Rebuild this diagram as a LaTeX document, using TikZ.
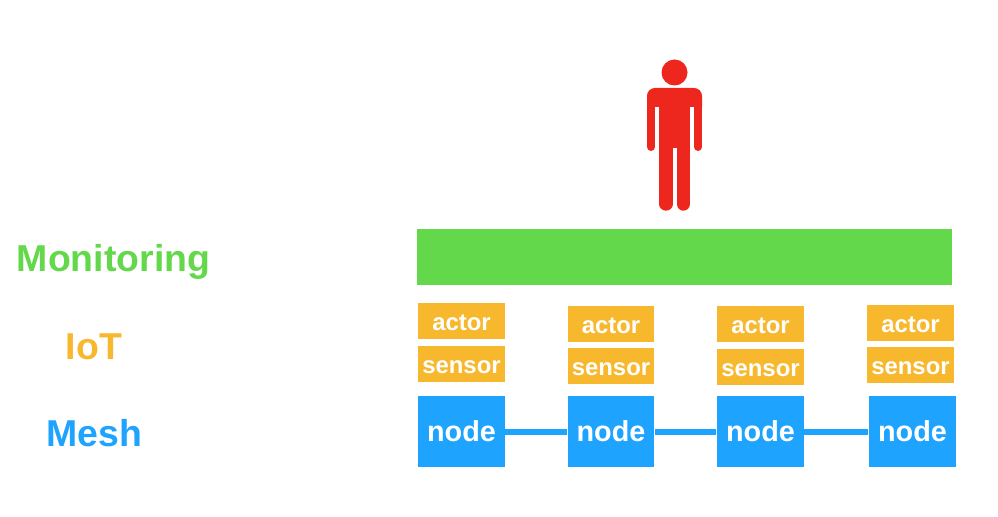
\documentclass[tikz,border=0pt]{standalone}
\usepackage{fontspec}
\setmainfont{Liberation Sans}
\usepackage{xcolor}
\definecolor{monitorgreen}{HTML}{62D84A}
\definecolor{iotorange}{HTML}{F8B82E}
\definecolor{meshblue}{HTML}{1EA3FF}
\definecolor{personred}{HTML}{EE271E}

\begin{document}
\begin{tikzpicture}[x=0.02cm,y=-0.02cm,
	label/.style={font=\fontsize{21.3}{24}\selectfont\bfseries,inner sep=0pt,anchor=base},
	iotbox/.style={fill=iotorange,text=white,inner sep=0pt,minimum width=1.73cm,minimum height=0.72cm,text height=10.8pt,text depth=0pt,font=\fontsize{13.6}{16}\selectfont\bfseries},
	meshbox/.style={fill=meshblue,text=white,inner sep=0pt,minimum width=1.73cm,minimum height=1.42cm,text height=11.6pt,text depth=0pt,font=\fontsize{16.4}{19}\selectfont\bfseries},
	meshlink/.style={meshblue,line width=0.12cm}]
	\useasboundingbox (0,0) rectangle (998,517);
	
	%PERSON
	\fill[personred] (674.5,72.5) circle (13);
	\fill[personred] (647,107) [rounded corners=4.5pt] -- (647,88) -- (702,88) [sharp corners] -- (702,107) -- cycle;
	\fill[personred] (659.3,100) rectangle (690,148);
	\draw[personred,line width=0.16cm,line cap=round] (651,100)--(651,147);
	\draw[personred,line width=0.16cm,line cap=round] (698,100)--(698,147);
	\draw[personred,line width=0.268cm,line cap=round] (666,140)--(666,204);
	\draw[personred,line width=0.268cm,line cap=round] (683.3,140)--(683.3,204);
	
	%LABELS
	\node[label,text=monitorgreen] (monitoring) at (113.5,271.2) {Monitoring};
	\node[label,text=iotorange] (iot) at (94,359.3) {IoT};
	\node[label,text=meshblue] (mesh) at (94.5,446.2) {Mesh};
	
	%MONITORING BAR
	\node[fill=monitorgreen,minimum width=10.7cm,minimum height=1.12cm,inner sep=0pt] (bar) at (684.5,257) {};
	
	%MESH NODES
	\node[meshbox] (node1) at (461.5,431.5) {node};
	\node[meshbox] (node2) at (611,431.5) {node};
	\node[meshbox] (node3) at (760.5,431.5) {node};
	\node[meshbox] (node4) at (912.5,431.5) {node};
	
	%LINKS
	\draw[meshlink,shorten >=0.5pt] (node1)--(node2);
	\draw[meshlink,shorten >=0.5pt] (node2)--(node3);
	\draw[meshlink,shorten >=0.5pt] (node3)--(node4);
	
	%ACTORS AND SENSORS
	\node[iotbox] (actor1) at (461.5,321) {actor};
	\node[iotbox] (sensor1) at (461.5,364) {sensor};
	\node[iotbox] (actor2) at (611,324) {actor};
	\node[iotbox] (sensor2) at (611,366) {sensor};
	\node[iotbox] (actor3) at (760.5,324) {actor};
	\node[iotbox] (sensor3) at (760.5,367) {sensor};
	\node[iotbox] (actor4) at (910.5,323) {actor};
	\node[iotbox] (sensor4) at (910.5,365) {sensor};
\end{tikzpicture}
\end{document}
